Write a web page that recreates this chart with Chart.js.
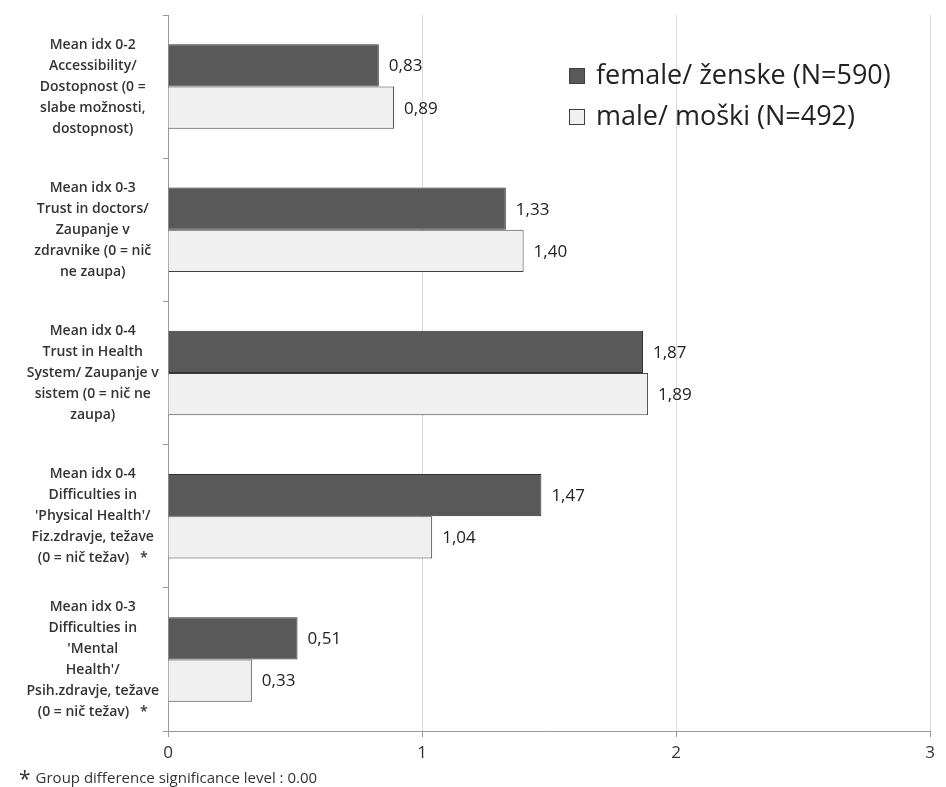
<!DOCTYPE html>
<html>
<head>
<meta charset="utf-8">
<script src="https://cdn.jsdelivr.net/npm/chart.js@4.4.1/dist/chart.umd.min.js"></script>
<style>
  html, body { margin: 0; padding: 0; background: #fff; }
  #wrap { position: relative; width: 946px; height: 787px; }
  #footer { position: absolute; left: 19px; top: 764px; font-family: "Open Sans", sans-serif; font-size: 15px; color: #333; white-space: nowrap; }
  #footer .ast { font-size: 21px; vertical-align: -3px; margin-right: 5px; }
</style>
</head>
<body>
<div id="wrap">
  <canvas id="c" width="946" height="787"></canvas>
  <div id="footer"><span class="ast">*</span>Group difference significance level : 0.00</div>
</div>
<script>
const categories = [
  ["Mean idx 0-2", "Accessibility/", "Dostopnost (0 =", "slabe možnosti,", "dostopnost)"],
  ["Mean idx 0-3", "Trust in doctors/", "Zaupanje v", "zdravnike (0 = nič", "ne zaupa)"],
  ["Mean idx 0-4", "Trust in Health", "System/ Zaupanje v", "sistem (0 = nič ne", "zaupa)"],
  ["Mean idx 0-4", "Difficulties in", "'Physical Health'/", "Fiz.zdravje, težave", "(0 = nič težav)   *"],
  ["Mean idx 0-3", "Difficulties in", "'Mental", "Health'/", "Psih.zdravje, težave", "(0 = nič težav)   *"]
];
const seriesNames = ["female/ ženske (N=590)", "male/ moški (N=492)"];
const femaleValues = [0.83, 1.33, 1.87, 1.47, 0.51];
const maleValues = [0.89, 1.40, 1.89, 1.04, 0.33];
const xTicks = [0, 1, 2, 3];

const valueLabels = {
  id: 'valueLabels',
  afterDatasetsDraw(chart) {
    const ctx = chart.ctx;
    ctx.save();
    ctx.font = '17px "Open Sans", sans-serif';
    ctx.fillStyle = '#222';
    ctx.textAlign = 'left';
    ctx.textBaseline = 'middle';
    chart.data.datasets.forEach((ds, di) => {
      const meta = chart.getDatasetMeta(di);
      meta.data.forEach((bar, i) => {
        const v = ds.data[i];
        ctx.fillText(v.toFixed(2).replace('.', ','), bar.x + 10, bar.y + 1);
      });
    });
    ctx.restore();
  }
};

const customLegend = {
  id: 'customLegend',
  afterDraw(chart) {
    const ctx = chart.ctx;
    ctx.save();
    ctx.font = '27px "Open Sans", sans-serif';
    ctx.textBaseline = 'middle';
    ctx.textAlign = 'left';
    const rows = [76, 117];
    chart.data.datasets.forEach((ds, di) => {
      const y = rows[di];
      ctx.fillStyle = ds.backgroundColor;
      ctx.strokeStyle = '#404040';
      ctx.lineWidth = 1;
      ctx.fillRect(569.5, y - 7.5, 15, 15);
      ctx.strokeRect(569.5, y - 7.5, 15, 15);
      ctx.fillStyle = '#222';
      ctx.fillText(ds.label, 596, y);
    });
    ctx.restore();
  }
};

new Chart(document.getElementById('c'), {
  type: 'bar',
  data: {
    labels: categories,
    datasets: [
      { label: seriesNames[0], data: femaleValues, backgroundColor: '#595959', borderColor: '#303030', borderWidth: 1, categoryPercentage: 0.59, barPercentage: 1.0 },
      { label: seriesNames[1], data: maleValues, backgroundColor: '#f0f0f0', borderColor: '#404040', borderWidth: 1, categoryPercentage: 0.59, barPercentage: 1.0 }
    ]
  },
  options: {
    indexAxis: 'y',
    responsive: false,
    animation: false,
    devicePixelRatio: 1,
    layout: { padding: { top: 15, right: 16, left: 0, bottom: 0 } },
    plugins: { legend: { display: false }, tooltip: { enabled: false } },
    scales: {
      x: {
        min: 0, max: 3,
        afterBuildTicks(scale) { scale.ticks = xTicks.map(v => ({ value: v })); },
        afterFit(scale) { scale.height = 56; scale.paddingLeft = 0; scale.paddingRight = 0; },
        grid: { color: '#d9d9d9', tickColor: '#999', tickLength: 6, lineWidth: 1 },
        border: { display: true, color: '#999' },
        ticks: { font: { family: 'Open Sans', size: 17 }, color: '#333', padding: 6 }
      },
      y: {
        afterFit(scale) { scale.width = 168; scale.paddingTop = 0; scale.paddingBottom = 0; },
        grid: { offset: true, drawOnChartArea: false, tickLength: 5, color: '#999' },
        border: { display: true, color: '#999' },
        ticks: { font: { family: 'Open Sans', size: 14, weight: '600', lineHeight: 1.5 }, color: '#333', crossAlign: 'center', padding: 4 }
      }
    }
  },
  plugins: [valueLabels, customLegend]
});
</script>
</body>
</html>
